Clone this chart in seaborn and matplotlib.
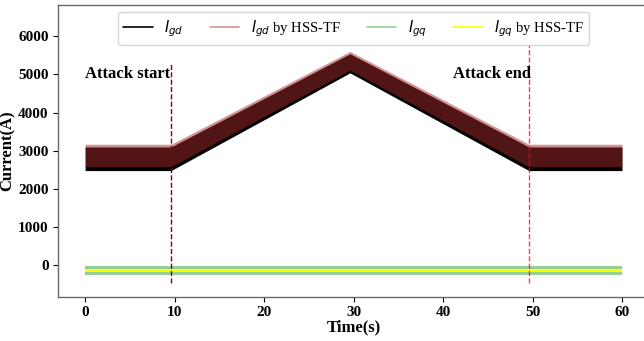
import numpy as np
import matplotlib
matplotlib.use("Agg")
import matplotlib.pyplot as plt
from matplotlib.lines import Line2D
import seaborn as sns

# envelope of the noisy currents at the knot times
time_knots = [0, 9.6, 29.6, 49.6, 60]
igd_low = [2480, 2480, 5040, 2480, 2480]
igd_high = [3100, 3100, 5540, 3100, 3100]
igd_est_low = [2580, 2580, 5110, 2580, 2580]
igd_est_high = [3170, 3170, 5600, 3170, 3170]
igq_low = [-254, -254, -254, -254, -254]
igq_high = [-20, -20, -20, -20, -20]
igq_est_low = [-185, -185, -185, -185, -185]
igq_est_high = [-92, -92, -92, -92, -92]

attack_start = 9.6
attack_end = 49.6

legend_labels = [r"$I_{gd}$", r"$I_{gd}$ by HSS-TF", r"$I_{gq}$", r"$I_{gq}$ by HSS-TF"]
yticks = [0, 1000, 2000, 3000, 4000, 5000, 6000]
xticks = [0, 10, 20, 30, 40, 50, 60]

sns.set_theme(style="ticks")
plt.rcParams['font.family'] = 'serif'
plt.rcParams['font.serif'] = ['Liberation Serif', 'DejaVu Serif']
plt.rcParams['mathtext.fontset'] = 'dejavusans'
plt.rcParams['text.color'] = 'black'
plt.rcParams['axes.labelcolor'] = 'black'

fig = plt.figure(figsize=(6.44, 3.41), dpi=100)
ax = fig.add_axes([0.0905, 0.13, 0.917, 0.855])

t = np.array(time_knots)
ax.fill_between(t, igd_low, igd_high, color='black', lw=0)
ax.fill_between(t, igd_est_low, igd_est_high, color='brown', alpha=0.5, lw=0)
ax.fill_between(t, igq_low, igq_high, color='tab:green', alpha=0.5, lw=0)
ax.fill_between(t, igq_est_low, igq_est_high, color='yellow', alpha=0.95, lw=0)

ax.vlines(attack_start, -460, 5300, colors='darkred', linestyles='--', lw=1)
ax.vlines(attack_end, -460, 5760, colors='red', linestyles='--', lw=1, alpha=0.75)

ax.text(0, 5000, "Attack start", fontsize=12, fontweight='bold', va='center')
ax.text(41.1, 5000, "Attack end", fontsize=12, fontweight='bold', va='center')

ax.set_xlim(-3, 63)
ax.set_ylim(-822, 6814)
ax.set_xticks(xticks)
ax.set_yticks(yticks)
for lab in ax.get_xticklabels() + ax.get_yticklabels():
    lab.set_fontweight('bold')
    lab.set_fontsize(11)
ax.tick_params(colors='black', length=3.5, width=0.8)
for s in ax.spines.values():
    s.set_color('dimgray')
    s.set_linewidth(1.0)

ax.set_xlabel("Time(s)", fontsize=12, fontweight='bold', labelpad=0)
ax.set_ylabel("Current(A)", fontsize=12, fontweight='bold', labelpad=2)

handles = [
    Line2D([], [], color='black', lw=1.2),
    Line2D([], [], color='brown', alpha=0.5, lw=1.2),
    Line2D([], [], color='tab:green', alpha=0.5, lw=1.2),
    Line2D([], [], color='yellow', lw=1.2),
]
ax.legend(handles, legend_labels, loc='upper center', ncol=4, fontsize=10.5,
          frameon=True, columnspacing=1.8)

fig.savefig("out.png", dpi=100)
